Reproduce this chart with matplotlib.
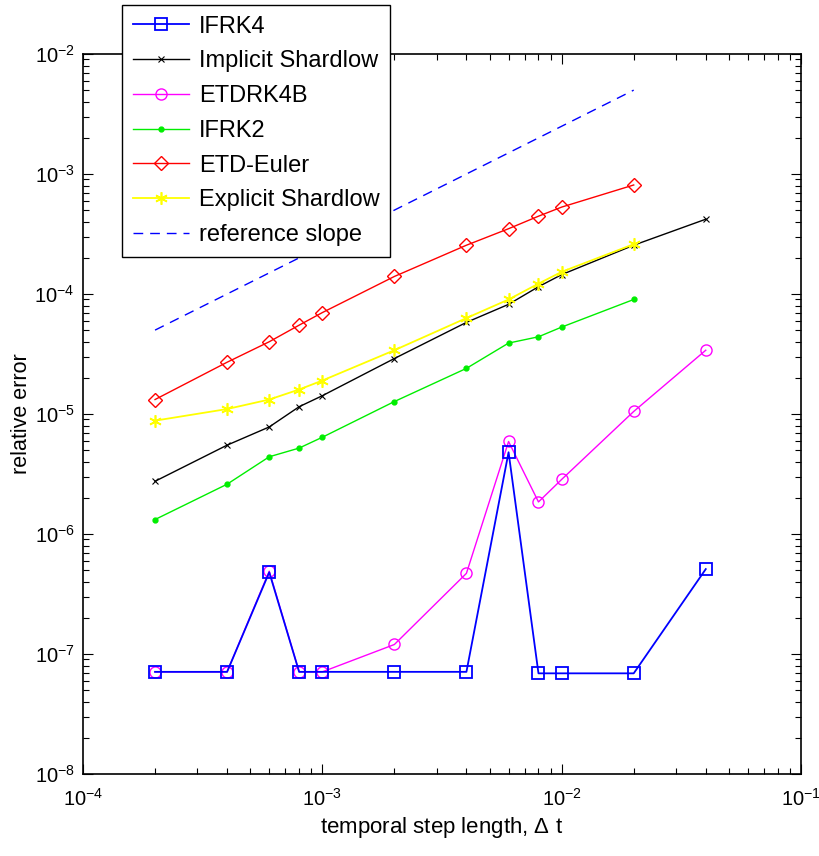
import numpy as np
import matplotlib
matplotlib.use('Agg')
import matplotlib.pyplot as plt

plt.rcParams['font.family'] = ['Liberation Sans', 'DejaVu Sans']
plt.rcParams['mathtext.fontset'] = 'custom'
plt.rcParams['mathtext.rm'] = 'Liberation Sans'

# step lengths
dt = [2e-4, 4e-4, 6e-4, 8e-4, 1e-3, 2e-3, 4e-3, 6e-3, 8e-3, 1e-2, 2e-2, 4e-2]

ifrk4 = [7.1e-8, 7.1e-8, 4.8e-7, 7.1e-8, 7.1e-8, 7.1e-8, 7.1e-8, 4.8e-6, 6.9e-8, 6.9e-8, 6.9e-8, 5.1e-7]
impl_shardlow = [2.75e-6, 5.5e-6, 7.8e-6, 1.15e-5, 1.42e-5, 2.9e-5, 5.8e-5, 8.2e-5, 1.15e-4, 1.45e-4, 2.55e-4, 4.2e-4]
etdrk4b = [7.1e-8, 7.1e-8, 4.9e-7, 7.1e-8, 7.1e-8, 1.2e-7, 4.7e-7, 5.9e-6, 1.85e-6, 2.85e-6, 1.05e-5, 3.4e-5]
ifrk2 = [1.32e-6, 2.6e-6, 4.4e-6, 5.2e-6, 6.4e-6, 1.27e-5, 2.4e-5, 3.9e-5, 4.4e-5, 5.3e-5, 9e-5]
etd_euler = [1.32e-5, 2.7e-5, 4.0e-5, 5.5e-5, 7.0e-5, 1.4e-4, 2.55e-4, 3.5e-4, 4.45e-4, 5.3e-4, 8.1e-4]
expl_shardlow = [8.8e-6, 1.1e-5, 1.32e-5, 1.6e-5, 1.9e-5, 3.4e-5, 6.3e-5, 9e-5, 1.22e-4, 1.53e-4, 2.6e-4]
ref_x = [2e-4, 2e-2]
ref_y = [5e-5, 5e-3]

fig = plt.figure(figsize=(8.19, 8.56), dpi=100)
# axes box: x 83..801 px, y 54..774 px
ax = fig.add_axes([83 / 819, 1 - 774 / 856, 718 / 819, 720 / 856])

h1, = ax.loglog(dt, ifrk4, 's-', color='#0000ff', mfc='none', mec='#0000ff', ms=8, lw=1.3, mew=1.3, zorder=5, label='IFRK4')
h2, = ax.loglog(dt, impl_shardlow, 'x-', color='black', ms=5, lw=1, mew=0.8, zorder=3, label='Implicit Shardlow')
h3, = ax.loglog(dt, etdrk4b, 'o-', color='#ff00ff', mfc='none', ms=8, lw=1, mew=1, zorder=4, label='ETDRK4B')
h4, = ax.loglog(dt[:11], ifrk2, '.-', color='#00ee00', ms=7, lw=1, zorder=3, label='IFRK2')
h5, = ax.loglog(dt[:11], etd_euler, 'D-', color='#ff0000', mfc='none', ms=7, lw=1, mew=1, zorder=3, label='ETD-Euler')
h6, = ax.loglog(dt[:11], expl_shardlow, '-', marker=(6, 2, 0), color='#ffff00', ms=9, lw=1.3, mew=1.2, zorder=4, label='Explicit Shardlow')
h7, = ax.loglog(ref_x, ref_y, '--', color='#0000ff', lw=1, dashes=(7, 5), label='reference slope')

ax.set_xlim(1e-4, 1e-1)
ax.set_ylim(1e-8, 1e-2)
ax.tick_params(which='both', direction='in', top=True, right=True, labelsize=14.5)
ax.tick_params(which='major', length=7, width=0.8)
ax.tick_params(which='minor', length=4, width=0.8)
ax.tick_params(axis='x', pad=10)
ax.tick_params(axis='y', pad=6)
for s in ax.spines.values():
    s.set_linewidth(1.2)

ax.set_xlabel('temporal step length, $\\Delta$ t', fontsize=16, labelpad=4)
ax.set_ylabel('relative error', fontsize=15.5, labelpad=2)

leg = fig.legend(handles=[h1, h2, h3, h4, h5, h6, h7], loc='upper left',
                 bbox_to_anchor=(122 / 819, 1 - 5 / 856), fontsize=17, fancybox=False,
                 edgecolor='black', framealpha=1, labelspacing=0.54,
                 handlelength=2.4, handletextpad=0.4, borderpad=0.45, borderaxespad=0)
leg.get_frame().set_linewidth(1.0)

plt.savefig('out.png', dpi=100)
